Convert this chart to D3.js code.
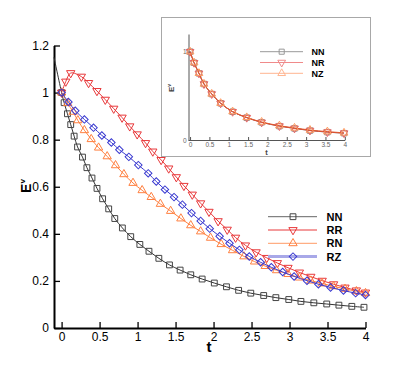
<!DOCTYPE html>
<html>
<head>
<meta charset="utf-8">
<script src="https://cdn.jsdelivr.net/npm/d3@7"></script>
<style>
  body { margin: 0; background: #fff; }
  text { font-family: "Liberation Sans", Arial, sans-serif; }
</style>
</head>
<body>
<script>
// main plot data (t, E^v)
var nnT = [-0.1, 0, 0.033, 0.077, 0.12, 0.165, 0.21, 0.275, 0.333, 0.40, 0.466, 0.54, 0.62, 0.70, 0.80, 0.91, 1.03, 1.15, 1.28, 1.42, 1.56, 1.70, 1.85, 2.01, 2.17, 2.33, 2.49, 2.66, 2.82, 2.99, 3.15, 3.32, 3.49, 3.65, 3.82, 3.98];
var nnV = [1.15, 1.0, 0.957, 0.91, 0.864, 0.815, 0.769, 0.726, 0.681, 0.637, 0.593, 0.549, 0.506, 0.465, 0.425, 0.388, 0.355, 0.326, 0.296, 0.268, 0.246, 0.226, 0.208, 0.191, 0.175, 0.160, 0.148, 0.138, 0.129, 0.121, 0.113, 0.107, 0.102, 0.097, 0.092, 0.088];

var rrT = [0, 0.055, 0.12, 0.26, 0.355, 0.465, 0.575, 0.686, 0.796, 0.897, 0.995, 1.105, 1.2, 1.31, 1.41, 1.51, 1.61, 1.72, 1.83, 1.94, 2.06, 2.18, 2.29, 2.42, 2.56, 2.70, 2.84, 2.98, 3.13, 3.28, 3.43, 3.58, 3.73, 3.88, 4.0];
var rrV = [1.0, 1.047, 1.083, 1.068, 1.041, 1.007, 0.970, 0.932, 0.894, 0.857, 0.823, 0.786, 0.750, 0.714, 0.678, 0.641, 0.604, 0.567, 0.530, 0.494, 0.454, 0.418, 0.384, 0.351, 0.322, 0.298, 0.276, 0.256, 0.236, 0.218, 0.201, 0.186, 0.172, 0.160, 0.151];

var rnT = [0, 0.08, 0.15, 0.214, 0.30, 0.39, 0.487, 0.60, 0.71, 0.82, 0.94, 1.06, 1.18, 1.30, 1.435, 1.57, 1.70, 1.83, 1.96, 2.10, 2.25, 2.40, 2.54, 2.68, 2.83, 2.98, 3.13, 3.28, 3.43, 3.58, 3.73, 3.88, 4.0];
var rnV = [1.0, 0.955, 0.918, 0.882, 0.840, 0.802, 0.766, 0.729, 0.691, 0.653, 0.616, 0.585, 0.556, 0.527, 0.497, 0.465, 0.436, 0.410, 0.383, 0.356, 0.330, 0.304, 0.282, 0.263, 0.245, 0.229, 0.214, 0.201, 0.189, 0.177, 0.166, 0.156, 0.148];

var rzT = [0, 0.09, 0.18, 0.30, 0.42, 0.53, 0.655, 0.76, 0.885, 1.01, 1.14, 1.246, 1.36, 1.48, 1.59, 1.71, 1.83, 1.95, 2.08, 2.21, 2.34, 2.47, 2.62, 2.76, 2.91, 3.06, 3.23, 3.38, 3.54, 3.71, 3.87, 4.0];
var rzV = [1.0, 0.96, 0.923, 0.886, 0.851, 0.818, 0.788, 0.757, 0.727, 0.692, 0.657, 0.622, 0.588, 0.556, 0.524, 0.488, 0.455, 0.422, 0.390, 0.360, 0.332, 0.304, 0.279, 0.258, 0.238, 0.219, 0.201, 0.186, 0.172, 0.159, 0.148, 0.140];

// inset data
var inT = [0, 0.103, 0.23, 0.36, 0.56, 0.79, 1.1, 1.465, 1.85, 2.31, 2.70, 3.10, 3.55, 3.98];
var inNN = [1.0, 0.875, 0.755, 0.634, 0.521, 0.416, 0.32, 0.253, 0.20, 0.157, 0.131, 0.107, 0.089, 0.077];
var inNR = [1.0, 0.875, 0.755, 0.634, 0.521, 0.416, 0.32, 0.253, 0.20, 0.158, 0.132, 0.108, 0.090, 0.078];
var inNZ = [1.0, 0.876, 0.756, 0.635, 0.522, 0.417, 0.322, 0.256, 0.204, 0.162, 0.137, 0.113, 0.095, 0.081];

// tick values
var xMajor = [0, 0.5, 1, 1.5, 2, 2.5, 3, 3.5, 4];
var yMajor = [0, 0.2, 0.4, 0.6, 0.8, 1, 1.2];
var inYLabels = [0, 1];

var svg = d3.select('body').append('svg')
    .attr('width', 415)
    .attr('height', 369);

var x = d3.scaleLinear().domain([-0.1, 4]).range([54, 365.5]);
var y = d3.scaleLinear().domain([0, 1.2]).range([328, 45.5]);

var fmt = function(d) { return String(+d.toFixed(2)); };

function zip(ts, vs) {
  return ts.map(function(t, i) { return { t: t, v: vs[i] }; });
}

function symbolPath(kind, size) {
  if (kind === 'square') return d3.symbol(d3.symbolSquare, size)();
  if (kind === 'diamond') return d3.symbol(d3.symbolSquare, size)();
  return d3.symbol(d3.symbolTriangle, size)();
}
function symbolRotate(kind) {
  if (kind === 'down') return 180;
  if (kind === 'diamond') return 45;
  return 0;
}

function drawSeries(g, xs, ys, pts, color, kind, size, lineColor) {
  var line = d3.line()
      .x(function(d) { return xs(d.t); })
      .y(function(d) { return ys(d.v); })
      .curve(d3.curveCatmullRom);
  g.append('path')
      .datum(pts)
      .attr('d', line)
      .attr('fill', 'none')
      .attr('stroke', lineColor || color)
      .attr('stroke-width', 1);
  g.selectAll(null)
      .data(pts.filter(function(d) { return d.t >= 0; }))
      .enter()
      .append('path')
        .attr('d', symbolPath(kind, size))
        .attr('transform', function(d) {
          return 'translate(' + xs(d.t) + ',' + ys(d.v) + ') rotate(' + symbolRotate(kind) + ')';
        })
        .attr('fill', 'none')
        .attr('stroke', color)
        .attr('stroke-width', 1);
}

// ---- main axes
var minorX = d3.range(-1, 41).map(function(i) { return i / 10; })
    .filter(function(d) { return Math.abs(d * 2 - Math.round(d * 2)) > 1e-6; });
var minorY = d3.range(0, 25).map(function(i) { return i / 20; })
    .filter(function(d) { return Math.abs(d * 5 - Math.round(d * 5)) > 1e-6; });

var gx = svg.append('g').attr('transform', 'translate(0,328)');
gx.call(d3.axisBottom(x).tickValues(minorX).tickSize(-3).tickSizeOuter(0).tickFormat(''));
gx.call(d3.axisBottom(x).tickValues(xMajor).tickSize(-6).tickSizeOuter(0).tickPadding(4).tickFormat(fmt));

var gy = svg.append('g').attr('transform', 'translate(54,0)');
gy.call(d3.axisLeft(y).tickValues(minorY).tickSize(-3).tickSizeOuter(0).tickFormat(''));
gy.call(d3.axisLeft(y).tickValues(yMajor).tickSize(-6).tickSizeOuter(0).tickPadding(5).tickFormat(fmt));

svg.selectAll('.domain').attr('stroke', '#000').attr('stroke-width', 2);
gx.selectAll('.tick line').attr('stroke', '#000').attr('stroke-width', 1.3);
gy.selectAll('.tick line').attr('stroke', '#000').attr('stroke-width', 1.3);
svg.selectAll('.tick text').attr('font-size', 12).attr('fill', '#000')
    .attr('font-family', '"Liberation Sans", Arial, sans-serif');

svg.append('text')
    .attr('x', 209).attr('y', 352)
    .attr('text-anchor', 'middle')
    .attr('font-size', 15).attr('font-weight', 'bold')
    .text('t');

var ylab = svg.append('text')
    .attr('transform', 'translate(31,186) rotate(-90)')
    .attr('text-anchor', 'middle')
    .attr('font-size', 14).attr('font-weight', 'bold');
ylab.append('tspan').text('E');
ylab.append('tspan').attr('font-size', 8).attr('dy', -6).text('v');

// ---- main curves
var plot = svg.append('g');
drawSeries(plot, x, y, zip(nnT, nnV), '#444', 'square', 34, '#333');
drawSeries(plot, x, y, zip(rrT, rrV), '#e8383a', 'down', 30);
drawSeries(plot, x, y, zip(rnT, rnV), '#ff8040', 'up', 30);
drawSeries(plot, x, y, zip(rzT, rzV), '#3a3ad0', 'diamond', 28);

// ---- main legend
var legNames = ['NN', 'RR', 'RN', 'RZ'];
var legColors = ['#444', '#e8383a', '#ff8040', '#3a3ad0'];
var legLines = ['#666', '#e8383a', '#ff9a66', '#a8a8e8'];
var legWidths = [1, 1, 1, 3];
var legKinds = ['square', 'down', 'up', 'diamond'];
var legSizes = [34, 30, 30, 28];

var leg = svg.append('g');
legNames.forEach(function(name, i) {
  var yy = 216.7 + i * 13.3;
  leg.append('line')
      .attr('x1', 268).attr('x2', 317).attr('y1', yy).attr('y2', yy)
      .attr('stroke', legLines[i]).attr('stroke-width', legWidths[i]);
  leg.append('path')
      .attr('d', symbolPath(legKinds[i], legSizes[i]))
      .attr('transform', 'translate(293,' + yy + ') rotate(' + symbolRotate(legKinds[i]) + ')')
      .attr('fill', 'none').attr('stroke', legColors[i]);
  leg.append('text')
      .attr('x', 326.5).attr('y', yy + 4)
      .attr('font-size', 11).attr('font-weight', 'bold')
      .text(name);
});

// ---- inset
var inset = svg.append('g');
inset.append('rect')
    .attr('x', 161.5).attr('y', 17.5)
    .attr('width', 209).attr('height', 139)
    .attr('fill', '#fff').attr('stroke', '#a8a8a8').attr('stroke-width', 1);

var xi = d3.scaleLinear().domain([-0.04, 4]).range([188.5, 344.8]);
var yi = d3.scaleLinear().domain([0, 1.2]).range([140, 34]);

var gxi = inset.append('g').attr('transform', 'translate(0,140)');
gxi.call(d3.axisBottom(xi).tickValues(minorX.filter(function(d) { return d > 0; })).tickSize(-1.5).tickSizeOuter(0).tickFormat(''));
gxi.call(d3.axisBottom(xi).tickValues(xMajor).tickSize(-3).tickSizeOuter(0).tickPadding(2).tickFormat(fmt));

var gyi = inset.append('g').attr('transform', 'translate(188.5,0)');
gyi.call(d3.axisLeft(yi).tickValues([0.2, 0.4, 0.6, 0.8, 1.2]).tickSize(-2).tickSizeOuter(0).tickFormat(''));
gyi.call(d3.axisLeft(yi).tickValues(inYLabels).tickSize(-3).tickSizeOuter(0).tickPadding(2).tickFormat(fmt));

inset.selectAll('.domain').attr('stroke', '#555').attr('stroke-width', 1);
inset.selectAll('.tick line').attr('stroke', '#555');
inset.selectAll('.tick text').attr('font-size', 6.5).attr('fill', '#666')
    .attr('font-family', '"Liberation Sans", Arial, sans-serif');

inset.append('text')
    .attr('x', 266.5).attr('y', 154.5)
    .attr('text-anchor', 'middle')
    .attr('font-size', 7.5).attr('font-weight', 'bold').attr('fill', '#444')
    .text('t');
var ylabi = inset.append('text')
    .attr('transform', 'translate(174,88) rotate(-90)')
    .attr('text-anchor', 'middle')
    .attr('font-size', 8).attr('font-weight', 'bold').attr('fill', '#444');
ylabi.append('tspan').text('E');
ylabi.append('tspan').attr('font-size', 5).attr('dy', -3).text('v');

drawSeries(inset, xi, yi, zip(inT, inNN), '#8a8a8a', 'square', 30, '#888');
drawSeries(inset, xi, yi, zip(inT, inNR), '#e86060', 'down', 26, '#d84030');
drawSeries(inset, xi, yi, zip(inT, inNZ), '#ff9a60', 'up', 26, '#e05a30');

var inNames = ['NN', 'NR', 'NZ'];
var inColors = ['#999', '#f08a8a', '#ffb590'];
var inKinds = ['square', 'down', 'up'];
inNames.forEach(function(name, i) {
  var yy = 51.7 + i * 10.8;
  inset.append('line')
      .attr('x1', 260).attr('x2', 303).attr('y1', yy).attr('y2', yy)
      .attr('stroke', inColors[i]).attr('stroke-width', 1);
  inset.append('path')
      .attr('d', symbolPath(inKinds[i], 26))
      .attr('transform', 'translate(281.7,' + yy + ') rotate(' + symbolRotate(inKinds[i]) + ')')
      .attr('fill', 'none').attr('stroke', inColors[i]);
  inset.append('text')
      .attr('x', 311.5).attr('y', yy + 3.3)
      .attr('font-size', 9).attr('font-weight', 'bold')
      .text(name);
});
</script>
</body>
</html>
